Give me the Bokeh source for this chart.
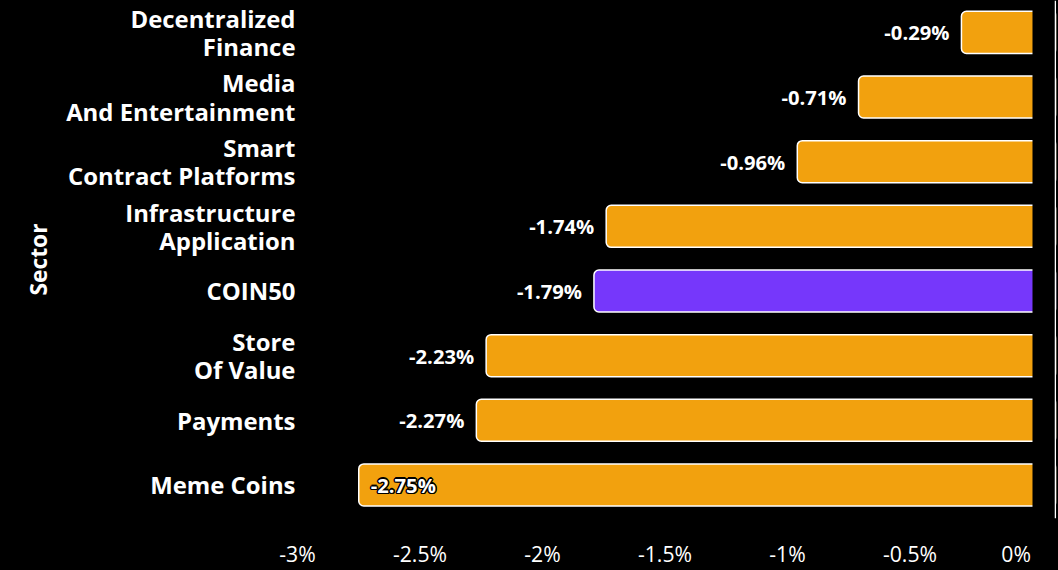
from bokeh.plotting import figure
from bokeh.models import Range1d, FixedTicker, ColumnDataSource, Span
from bokeh.embed import file_html
from bokeh.resources import INLINE
from bokeh.core.properties import value

sectors = ["Decentralized\nFinance", "Media\nAnd Entertainment", "Smart\nContract Platforms",
           "Infrastructure\nApplication", "COIN50", "Store\nOf Value", "Payments", "Meme Coins"]
changes = [-0.29, -0.71, -0.96, -1.74, -1.79, -2.23, -2.27, -2.75]
x_ticks = [-3, -2.5, -2, -1.5, -1, -0.5, 0]
x_tick_labels = ["-3%", "-2.5%", "-2%", "-1.5%", "-1%", "-0.5%", "0%" + "\u00a0" * 5]

FONT = "Open Sans"
ORANGE = "#F2A10E"
PURPLE = "#7637FB"

n = len(sectors)
ypos = [n - 1 - i for i in range(n)]
colors = [PURPLE if s == "COIN50" else ORANGE for s in sectors]
labels = [f"{v:.2f}%" for v in changes]
inside = [v == min(changes) for v in changes]

bars = ColumnDataSource(dict(y=ypos, left=changes, right=[0.5] * n, color=colors))
out_src = ColumnDataSource(dict(
    x=[v for v, f in zip(changes, inside) if not f],
    y=[y for y, f in zip(ypos, inside) if not f],
    t=[l for l, f in zip(labels, inside) if not f]))
in_src = ColumnDataSource(dict(
    x=[v for v, f in zip(changes, inside) if f],
    y=[y for y, f in zip(ypos, inside) if f],
    t=[l for l, f in zip(labels, inside) if f]))

p = figure(width=1058, height=570, output_backend="svg", toolbar_location=None,
           x_range=Range1d(-3, 0.098), y_range=Range1d(-0.519, 7.493),
           background_fill_color=None, border_fill_color="black",
           min_border_left=297, min_border_right=2, min_border_top=0, min_border_bottom=50)
p.outline_line_color = None
p.xgrid.visible = False
p.ygrid.visible = False

# frame background drawn as a glyph so no seams appear at the frame edge
p.quad(left=[-5], right=[1], bottom=[-5], top=[12], fill_color="black", line_color=None)

p.hbar(y="y", left="left", right="right", height=0.65, source=bars,
       fill_color="color", line_color="white", line_width=1.5, border_radius=5)

# hide the part of the bars to the right of zero
p.quad(left=[0], right=[1], bottom=[-2], top=[10], fill_color="black", line_color=None)
p.add_layout(Span(location=0.0935, dimension="height", line_color="white", line_width=1.3))

txt = dict(text_baseline="middle", text_font=value(FONT), text_font_style="bold",
           text_font_size="20.2px")
p.text(x="x", y="y", text="t", source=out_src, x_offset=-12,
       text_align="right", text_color="white", **txt)
# inside label with dark halo
for dx, dy in [(-1.5, 0), (1.5, 0), (0, -1.5), (0, 1.5), (-1.1, -1.1), (1.1, -1.1), (-1.1, 1.1), (1.1, 1.1)]:
    p.text(x="x", y="y", text="t", source=in_src, x_offset=12 + dx, y_offset=dy,
           text_align="left", text_color="black", **txt)
p.text(x="x", y="y", text="t", source=in_src, x_offset=12,
       text_align="left", text_color="white", **txt)

# x axis
p.xaxis.ticker = FixedTicker(ticks=x_ticks)
p.xaxis.major_label_overrides = dict(zip(x_ticks, x_tick_labels))
p.xaxis.axis_line_color = None
p.xaxis.major_tick_line_color = None
p.xaxis.minor_tick_line_color = None
p.xaxis.major_label_standoff = 14
p.xaxis.major_label_text_color = "white"
p.xaxis.major_label_text_font = FONT
p.xaxis.major_label_text_font_size = "21.2px"

# y axis
p.yaxis.ticker = FixedTicker(ticks=ypos)
p.yaxis.major_label_overrides = dict(zip(ypos, sectors))
p.yaxis.axis_line_color = None
p.yaxis.major_tick_line_color = None
p.yaxis.minor_tick_line_color = None
p.yaxis.major_label_standoff = -4
p.yaxis.major_label_text_color = "white"
p.yaxis.major_label_text_font = FONT
p.yaxis.major_label_text_font_style = "bold"
p.yaxis.major_label_text_font_size = "23.9px"
p.yaxis.major_label_text_line_height = 0.86
p.yaxis.axis_label = "Sector"
p.yaxis.axis_label_text_color = "white"
p.yaxis.axis_label_text_font = FONT
p.yaxis.axis_label_text_font_style = "bold"
p.yaxis.axis_label_text_font_size = "22.8px"
p.yaxis.axis_label_standoff = 9

html = file_html(p, INLINE)
html = html.replace("</head>",
                    "<style>html, body { background: #000; margin: 0; padding: 0; overflow: hidden; }</style></head>", 1)
open("out.html", "w").write(html)
